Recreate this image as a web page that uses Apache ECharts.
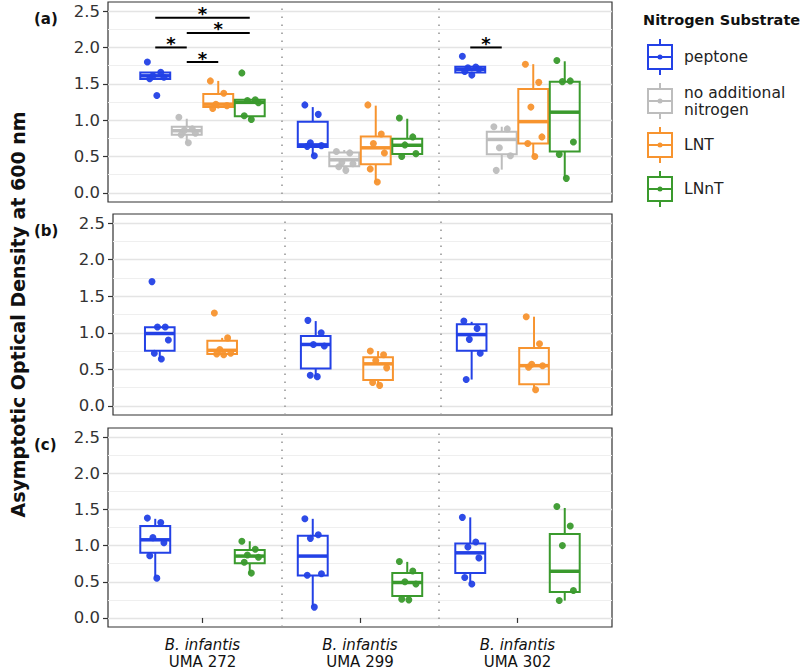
<!DOCTYPE html>
<html>
<head>
<meta charset="utf-8">
<script src="https://cdn.jsdelivr.net/npm/echarts@6.0.0/dist/echarts.min.js"></script>
<style>
  html, body { margin: 0; padding: 0; background: #fff; }
  #chart { width: 800px; height: 669px; }
</style>
</head>
<body>
<div id="chart"></div>
<script>
// strains on the x axis, substrates as dodged boxes
const STRAINS = ['UMA 272', 'UMA 299', 'UMA 302'];
const SUBSTRATES = ['peptone', 'no additional nitrogen', 'LNT', 'LNnT'];
const Y_TICKS = [0, 0.5, 1, 1.5, 2, 2.5];
const Y_MINOR = [0.25, 0.75, 1.25, 1.75, 2.25];

// box stats per strain: [lower whisker, Q1, median, Q3, upper whisker]
// (a)
const a_peptone_box = [[1.56, 1.565, 1.61, 1.655, 1.66], [0.51, 0.63, 0.66, 0.98, 1.18], [1.65, 1.655, 1.70, 1.735, 1.74]];
const a_none_box    = [[0.68, 0.80, 0.855, 0.91, 1.02], [0.31, 0.365, 0.455, 0.555, 0.59], [0.32, 0.53, 0.735, 0.84, 0.91]];
const a_lnt_box     = [[1.16, 1.18, 1.22, 1.36, 1.54], [0.145, 0.395, 0.62, 0.775, 1.20], [0.50, 0.68, 0.98, 1.43, 1.77]];
const a_lnnt_box    = [[1.02, 1.055, 1.245, 1.28, 1.28], [0.53, 0.535, 0.655, 0.745, 1.02], [0.20, 0.57, 1.11, 1.53, 1.81]];
// (b)
const b_peptone_box = [[0.64, 0.755, 0.99, 1.075, 1.08], [0.40, 0.51, 0.84, 0.955, 1.16], [0.36, 0.755, 0.975, 1.115, 1.15]];
const b_lnt_box     = [[0.69, 0.71, 0.76, 0.89, 0.93], [0.28, 0.355, 0.575, 0.665, 0.75], [0.22, 0.295, 0.55, 0.79, 1.22]];
// (c)
const c_peptone_box = [[0.555, 0.90, 1.08, 1.27, 1.37], [0.16, 0.585, 0.855, 1.135, 1.37], [0.47, 0.62, 0.90, 1.03, 1.39]];
const c_lnnt_box    = [[0.62, 0.755, 0.855, 0.94, 1.06], [0.29, 0.305, 0.49, 0.62, 0.775], [0.24, 0.36, 0.645, 1.16, 1.52]];

// individual replicate values per strain
const a_peptone_pts = [[1.80, 1.66, 1.61, 1.59, 1.57, 1.34], [1.21, 1.08, 0.69, 0.65, 0.64, 0.51], [1.88, 1.73, 1.72, 1.70, 1.67, 1.62]];
const a_none_pts    = [[1.04, 0.88, 0.86, 0.82, 0.80, 0.69], [0.57, 0.55, 0.42, 0.40, 0.36, 0.31], [0.91, 0.88, 0.62, 0.51, 0.31]];
const a_lnt_pts     = [[1.54, 1.37, 1.22, 1.20, 1.16], [1.21, 0.81, 0.68, 0.55, 0.33, 0.15], [1.77, 1.52, 1.18, 0.77, 0.68, 0.50]];
const a_lnnt_pts    = [[1.65, 1.28, 1.27, 1.24, 1.06, 1.01], [1.03, 0.77, 0.66, 0.54, 0.50], [1.82, 1.54, 1.53, 0.70, 0.53, 0.20]];
const b_peptone_pts = [[1.70, 1.08, 1.08, 0.90, 0.72, 0.64], [1.17, 1.00, 0.84, 0.82, 0.42, 0.40], [1.16, 1.06, 0.91, 0.72, 0.36]];
const b_lnt_pts     = [[1.27, 0.93, 0.77, 0.72, 0.71, 0.70], [0.75, 0.70, 0.62, 0.52, 0.32, 0.28], [1.22, 0.85, 0.57, 0.55, 0.53, 0.22]];
const c_peptone_pts = [[1.38, 1.32, 1.11, 1.04, 0.86, 0.55], [1.37, 1.15, 1.10, 0.61, 0.59, 0.15], [1.39, 1.05, 0.98, 0.83, 0.56, 0.47]];
const c_lnnt_pts    = [[1.06, 0.95, 0.87, 0.84, 0.77, 0.62], [0.78, 0.65, 0.50, 0.47, 0.26, 0.25], [1.54, 1.27, 1.00, 0.38, 0.24]];

// significance bars in (a): [strain, substrate from, substrate to, height]
const a_signif = [[0, 0, 3, 2.41], [0, 1, 3, 2.2], [0, 0, 1, 2.0], [0, 1, 2, 1.8], [2, 0, 1, 2.0]];

const COLORS = ['#2341e6', '#bdbdbd', '#f7942f', '#3a9a2d'];
const FONT = '"DejaVu Sans", "Liberation Sans", Arial, sans-serif';
const DODGE = 0.2, BOX_W = 0.19;
const JIT = [-0.05, 0.035, -0.015, 0.055, -0.035, 0.01];

const panels = [
  { tag: '(a)', top: 2,   height: 200, box: [a_peptone_box, a_none_box, a_lnt_box, a_lnnt_box], pts: [a_peptone_pts, a_none_pts, a_lnt_pts, a_lnnt_pts] },
  { tag: '(b)', top: 214, height: 201, box: [b_peptone_box, null, b_lnt_box, null], pts: [b_peptone_pts, null, b_lnt_pts, null] },
  { tag: '(c)', top: 428, height: 200, box: [c_peptone_box, null, null, c_lnnt_box], pts: [c_peptone_pts, null, null, c_lnnt_pts] }
];

function xPos(strain, sub) { return strain + 1 + (sub - 1.5) * DODGE; }

const ICON = 'path://M0,5L26,5L26,31L0,31Z M2,7L2,29L24,29L24,7Z M12,0L14,0L14,5L12,5Z M12,31L14,31L14,36L12,36Z M2,17L24,17L24,19L2,19Z M10.5,18A2.5,2.5 0 1,1 15.5,18A2.5,2.5 0 1,1 10.5,18Z';

function renderBox(params, api) {
  const x = api.value(0);
  const lo = api.coord([x, api.value(1)]);
  const q1 = api.coord([x, api.value(2)]);
  const md = api.coord([x, api.value(3)]);
  const q3 = api.coord([x, api.value(4)]);
  const hi = api.coord([x, api.value(5)]);
  const w = api.size([BOX_W, 0])[0];
  const c = api.visual('color');
  const cx = md[0];
  return {
    type: 'group',
    children: [
      { type: 'line', shape: { x1: cx, y1: hi[1], x2: cx, y2: q3[1] }, style: { stroke: c, lineWidth: 2 } },
      { type: 'line', shape: { x1: cx, y1: q1[1], x2: cx, y2: lo[1] }, style: { stroke: c, lineWidth: 2 } },
      { type: 'rect', shape: { x: cx - w / 2, y: q3[1], width: w, height: q1[1] - q3[1] }, style: { fill: 'none', stroke: c, lineWidth: 2 } },
      { type: 'line', shape: { x1: cx - w / 2, y1: md[1], x2: cx + w / 2, y2: md[1] }, style: { stroke: c, lineWidth: 3.5 } }
    ]
  };
}

function renderSignif(params, api) {
  const p1 = api.coord([api.value(0), api.value(2)]);
  const p2 = api.coord([api.value(1), api.value(2)]);
  return {
    type: 'group',
    children: [
      { type: 'rect', shape: { x: p1[0], y: p1[1] - 1, width: p2[0] - p1[0], height: 2 }, style: { fill: '#000' } },
      { type: 'text', style: { x: (p1[0] + p2[0]) / 2, y: p1[1] + 5, text: '*', fill: '#000', font: 'bold 18px ' + FONT, align: 'center', verticalAlign: 'bottom' } }
    ]
  };
}

const grids = [], xAxes = [], yAxes = [], series = [], titles = [];

panels.forEach((p, i) => {
  grids.push({ left: 108, right: 188, top: p.top, height: p.height, show: true, borderColor: '#333', borderWidth: 1.2 });
  const last = i === panels.length - 1;
  xAxes.push({
    type: 'value', gridIndex: i, min: 0.4, max: 3.6,
    axisLine: { show: false },
    splitLine: { show: false },
    axisTick: { show: last, customValues: [1, 2, 3], length: 5, lineStyle: { color: '#333', width: 1.2 } },
    axisLabel: {
      show: last, customValues: [1, 2, 3], margin: 9,
      formatter: v => '{i|B. infantis}\n{n|' + STRAINS[Math.round(v) - 1] + '}',
      rich: {
        i: { fontStyle: 'italic', fontSize: 15, lineHeight: 17, color: '#111', fontFamily: FONT },
        n: { fontSize: 15, lineHeight: 17, color: '#111', fontFamily: FONT }
      }
    }
  });
  yAxes.push({
    type: 'value', gridIndex: i, min: -0.125, max: 2.625,
    axisLine: { show: false },
    splitLine: { show: false },
    axisTick: { show: true, customValues: Y_TICKS, length: 5, lineStyle: { color: '#333', width: 1.2 } },
    axisLabel: { customValues: Y_TICKS, formatter: v => v.toFixed(1), fontSize: 16.5, color: '#333', fontFamily: FONT, margin: 8 },
    name: i === 1 ? 'Asymptotic Optical Density at 600 nm' : '',
    nameLocation: 'middle', nameGap: 86,
    nameTextStyle: { fontSize: 19, fontWeight: 'bold', color: '#111', fontFamily: FONT }
  });

  // background grid and strain separators (kept beneath the boxes)
  series.push({
    type: 'line', xAxisIndex: i, yAxisIndex: i, data: [], silent: true, z: 0,
    markLine: {
      z: 0, silent: true, symbol: 'none', label: { show: false }, animation: false,
      data: Y_TICKS.map(v => ({ yAxis: v, lineStyle: { color: '#e4e4e4', width: 1.3, type: 'solid' } }))
        .concat(Y_MINOR.map(v => ({ yAxis: v, lineStyle: { color: '#efefef', width: 1, type: 'solid' } })))
        .concat([1.5, 2.5].map(v => ({ xAxis: v, lineStyle: { color: '#999', width: 1.6, type: [1.6, 6.4] } })))
    }
  });

  SUBSTRATES.forEach((name, s) => {
    if (!p.box[s]) return;
    series.push({
      type: 'custom', name: name, xAxisIndex: i, yAxisIndex: i, z: 2,
      itemStyle: { color: COLORS[s] },
      renderItem: renderBox,
      encode: { x: 0, y: [1, 2, 3, 4, 5] },
      data: p.box[s].map((b, k) => [xPos(k, s)].concat(b))
    });
    const pts = [];
    p.pts[s].forEach((vals, k) => vals.forEach((v, j) => pts.push([xPos(k, s) + JIT[j % JIT.length], v])));
    series.push({
      type: 'scatter', name: name, xAxisIndex: i, yAxisIndex: i, z: 3,
      symbolSize: 7, itemStyle: { color: COLORS[s], opacity: 0.95 },
      data: pts
    });
  });

  titles.push({ text: p.tag, left: 34, top: p.top + 9, padding: 0, textStyle: { fontSize: 15, fontWeight: 'bold', color: '#111', fontFamily: FONT } });
});

series.push({
  type: 'custom', xAxisIndex: 0, yAxisIndex: 0, z: 6, silent: true,
  renderItem: renderSignif,
  encode: { x: [0, 1], y: 2 },
  data: a_signif.map(d => [xPos(d[0], d[1]), xPos(d[0], d[2]), d[3]])
});

titles.push({ text: 'Nitrogen Substrate', left: 643, top: 12, padding: 0, textStyle: { fontSize: 14.5, fontWeight: 'bold', color: '#111', fontFamily: FONT } });

const chart = echarts.init(document.getElementById('chart'), null, { renderer: 'svg' });
chart.setOption({
  animation: false,
  backgroundColor: '#fff',
  title: titles,
  legend: {
    orient: 'vertical', left: 647, top: 39, padding: 0, itemWidth: 26, itemHeight: 36, itemGap: 8,
    selectedMode: false,
    data: SUBSTRATES.map(n => ({ name: n, icon: ICON })),
    formatter: n => n === 'no additional nitrogen' ? 'no additional\nnitrogen' : n,
    textStyle: { fontSize: 15.5, lineHeight: 17, color: '#222', fontFamily: FONT, padding: [0, 0, 0, 6] }
  },
  grid: grids,
  xAxis: xAxes,
  yAxis: yAxes,
  series: series
});
</script>
</body>
</html>
